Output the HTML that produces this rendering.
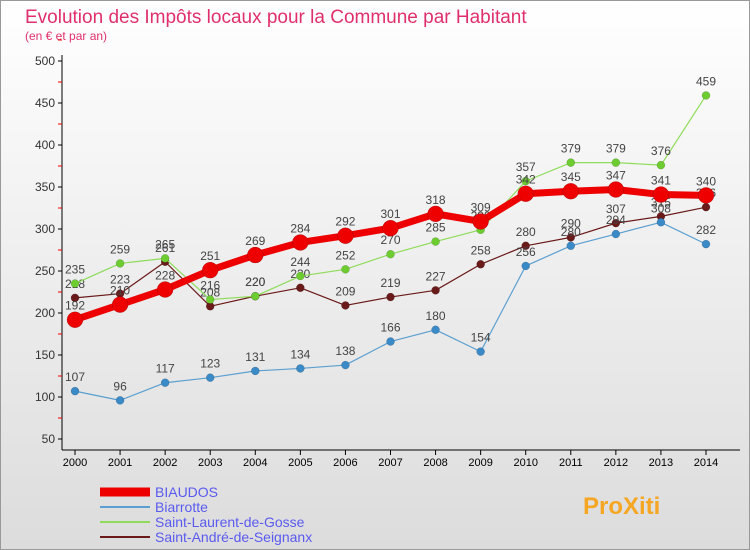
<!DOCTYPE html>
<html><head><meta charset="utf-8"><style>
body{margin:0;width:750px;height:550px;overflow:hidden;font-family:"Liberation Sans",sans-serif}
#c{position:absolute;left:0;top:0}
</style></head><body>
<svg id="c" width="750" height="550">
<defs><linearGradient id="bg" x1="0" y1="0" x2="0" y2="1"><stop offset="0" stop-color="#ffffff"/><stop offset="1" stop-color="#dcdcdc"/></linearGradient></defs>
<rect x="0.5" y="0.5" width="749" height="549" fill="url(#bg)" stroke="#999"/>
<text x="25" y="23" font-size="19" fill="#e0306a">Evolution des Impôts locaux pour la Commune par Habitant</text>
<text x="25" y="40" font-size="12" fill="#e0306a">(en € et par an)</text>
<g id="axes"></g><g id="series"></g><g id="legend"></g>
</svg>
<script>
const years=[2000,2001,2002,2003,2004,2005,2006,2007,2008,2009,2010,2011,2012,2013,2014];
const yTicks=[50,100,150,200,250,300,350,400,450,500];
const biaudos=[192,210,228,251,269,284,292,301,318,309,342,345,347,341,340];
const biarrotte=[107,96,117,123,131,134,138,166,180,154,256,280,294,308,282];
const stLaurent=[235,259,265,216,220,244,252,270,285,299,357,379,379,376,459];
const stAndre=[218,223,261,208,220,230,209,219,227,258,280,290,307,315,326];
const names=["BIAUDOS","Biarrotte","Saint-Laurent-de-Gosse","Saint-André-de-Seignanx"];
const NS="http://www.w3.org/2000/svg";
const X=i=>75+i*(706-75)/(years.length-1);
const Y=v=>61+(500-v)*(439-61)/450;
function mk(t,a,p){const e=document.createElementNS(NS,t);for(const k in a)e.setAttribute(k,a[k]);p.appendChild(e);return e;}
const ax=document.getElementById('axes');
const yl=mk('line',{x1:62,y1:55,x2:62,y2:450,stroke:'#000'},ax);


const xl=mk('line',{x1:62,y1:450,x2:740,y2:450,stroke:'#000'},ax);


yTicks.forEach(v=>{
 mk('line',{x1:58,y1:Y(v),x2:62,y2:Y(v),stroke:'#000'},ax);
 mk('line',{x1:58,y1:Y(v+25),x2:62,y2:Y(v+25),stroke:'#e00'},ax);
 const t=mk('text',{x:55,y:Y(v)+4,'font-size':12,'text-anchor':'end',fill:'#333'},ax);t.textContent=v;
 
 
});
years.forEach((y,i)=>{
 mk('line',{x1:X(i),y1:450,x2:X(i),y2:455,stroke:'#000'},ax);
 const t=mk('text',{x:X(i),y:466,'font-size':11,'text-anchor':'middle',fill:'#000'},ax);t.textContent=y;
 
 
});
const sg=document.getElementById('series');
const defs=[[stAndre,'#6b1a1a','#6b1a1a',1.2,4],[stLaurent,'#8fdc5a','#6ccc30',1.2,4],[biarrotte,'#5a9fd0','#3a8ac8',1.2,4],[biaudos,'#ee0000','#ee0000',7,8]];
const keys=['saint-andre','saint-laurent','biarrotte','biaudos'];
defs.forEach(([d,lc,pc,w,r],s)=>{
 const g=mk('g',{},sg);
 
 
 mk('polyline',{points:d.map((v,i)=>X(i)+','+Y(v)).join(' '),fill:'none',stroke:lc,'stroke-width':w,'stroke-linejoin':'round'},g);
 d.forEach((v,i)=>{
  const c=mk('circle',{cx:X(i),cy:Y(v),r:r,fill:pc,stroke:'rgba(0,0,0,0.25)','stroke-width':0.5},g);
  
  
  const t=mk('text',{x:X(i),y:Y(v)-10,'font-size':12,'text-anchor':'middle',fill:'#444'},g);t.textContent=v;
  
  
 });
});
const lg=document.getElementById('legend');
const lcol=['#ee0000','#5a9fd0','#8fdc5a','#6b1a1a'],lw=[9,2,2,2];
names.forEach((n,i)=>{
 const y=492+i*15;
 const g=mk('g',{},lg);
 
 
 mk('line',{x1:100,y1:y,x2:150,y2:y,stroke:lcol[i],'stroke-width':lw[i]},g);
 const t=mk('text',{x:155,y:y+5,'font-size':14,fill:'#5a5af0'},g);t.textContent=n;
});
const p=mk('text',{x:583,y:514,'font-size':24,'font-weight':'bold',fill:'#f5a623'},lg);
p.textContent='ProXiti';


</script>
</body></html>
